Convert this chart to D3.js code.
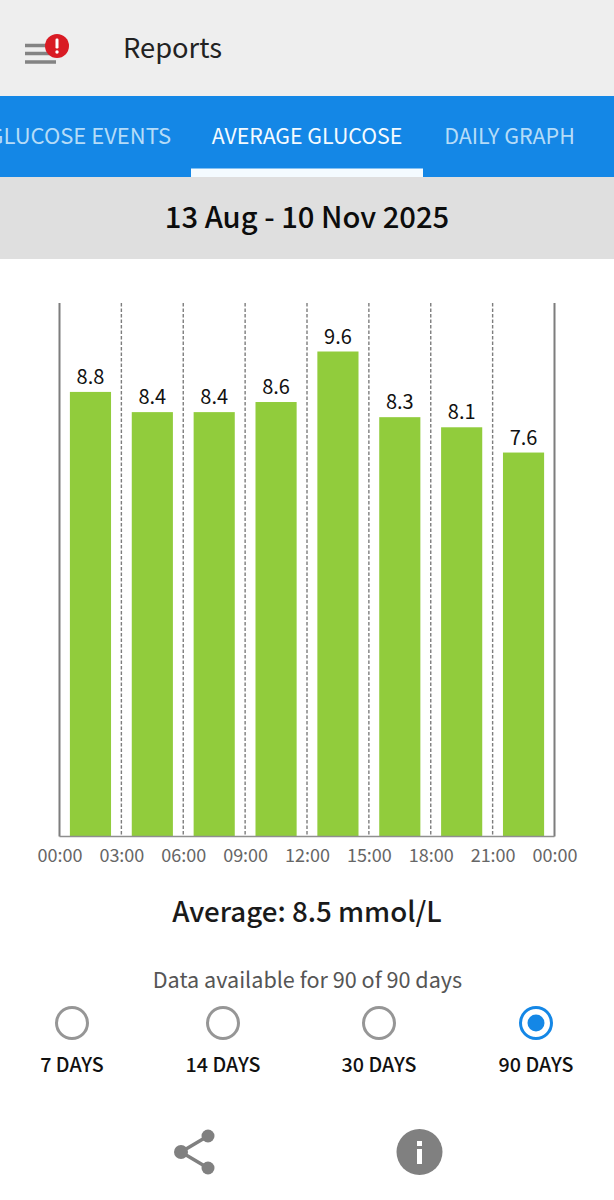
<!DOCTYPE html>
<html>
<head>
<meta charset="UTF-8">
<title>Average Glucose</title>
<script src="https://d3js.org/d3.v7.min.js"></script>
<style>
  html, body { margin: 0; padding: 0; background: #fff; }
  svg { display: block; }
  text { font-family: "Noto Sans CJK JP", "Noto Sans", sans-serif; }
  .axis path, .axis line { display: none; }
</style>
</head>
<body>
<div id="chart"></div>
<script>
// values
var slots = ["00-03", "03-06", "06-09", "09-12", "12-15", "15-18", "18-21", "21-00"];
var glucose = [8.8, 8.4, 8.4, 8.6, 9.6, 8.3, 8.1, 7.6];
var tickLabels = ["00:00", "03:00", "06:00", "09:00", "12:00", "15:00", "18:00", "21:00", "00:00"];
var tickKeys = d3.range(tickLabels.length);
var tabs = ["GLUCOSE EVENTS", "AVERAGE GLUCOSE", "DAILY GRAPH"];
var periods = ["7 DAYS", "14 DAYS", "30 DAYS", "90 DAYS"];
var selectedPeriod = "90 DAYS";

var width = 614, height = 1200;
var plot = { left: 59.5, right: 554.5, top: 303, bottom: 836.5 };

var svg = d3.select("#chart").append("svg")
  .attr("width", width)
  .attr("height", height);

function label(x, y, str, size, weight, fill, anchor) {
  return svg.append("text")
    .attr("x", x).attr("y", y)
    .attr("font-size", size)
    .attr("font-weight", weight)
    .attr("fill", fill)
    .attr("text-anchor", anchor || "middle")
    .text(str);
}

// app bar
svg.append("rect").attr("width", width).attr("height", 96).attr("fill", "#eeeeee");
[45.5, 53.5, 62].forEach(function (y, i) {
  svg.append("rect").attr("x", 25).attr("y", y - 1.75).attr("width", 31).attr("height", 3.5).attr("fill", "#838383");
});
svg.append("circle").attr("cx", 57).attr("cy", 46).attr("r", 12).attr("fill", "#d91b24");
svg.append("rect").attr("x", 55.5).attr("y", 38.5).attr("width", 3).attr("height", 10).attr("rx", 1.2).attr("fill", "#fff");
svg.append("circle").attr("cx", 57).attr("cy", 52).attr("r", 1.7).attr("fill", "#fff");
label(123, 58, "Reports", 27.3, 400, "#222222", "start");

// tab strip
svg.append("rect").attr("y", 96).attr("width", width).attr("height", 81).attr("fill", "#1487e6");
svg.append("rect").attr("x", 191).attr("y", 168.5).attr("width", 232).attr("height", 8.5).attr("fill", "#f4fbff");
label(171, 144, tabs[0], 22, 400, "#b5dcf8", "end");
label(307, 144, tabs[1], 21.3, 400, "#f4fbff");
label(509.5, 144, tabs[2], 21.5, 400, "#b5dcf8");

// date strip
svg.append("rect").attr("y", 177).attr("width", width).attr("height", 82).attr("fill", "#dfdfdf");
label(307, 228, "13 Aug - 10 Nov 2025", 29.2, 500, "#0c0c0c");

// chart
var x = d3.scaleBand()
  .domain(slots)
  .range([plot.left, plot.right])
  .paddingInner(0.335)
  .paddingOuter(0.168);

var xTick = d3.scalePoint()
  .domain(tickKeys)
  .range([plot.left, plot.right]);

var y = d3.scaleLinear()
  .domain([0, 10.56])
  .range([plot.bottom, plot.top]);

// dashed separators, solid at both ends
svg.selectAll(".sep")
  .data(tickKeys)
  .enter()
  .append("line")
  .attr("class", "sep")
  .attr("x1", function (d) { return xTick(d); })
  .attr("x2", function (d) { return xTick(d); })
  .attr("y1", plot.top)
  .attr("y2", plot.bottom)
  .attr("stroke", "#7d7d7d")
  .attr("stroke-width", function (d) { return d === 0 || d === tickKeys.length - 1 ? 2 : 1.4; })
  .attr("stroke-dasharray", function (d) { return d === 0 || d === tickKeys.length - 1 ? null : "3.5,2"; });

svg.selectAll(".bar")
  .data(glucose)
  .enter()
  .append("rect")
  .attr("class", "bar")
  .attr("x", function (d, i) { return x(slots[i]); })
  .attr("y", function (d) { return y(d); })
  .attr("width", x.bandwidth())
  .attr("height", function (d) { return plot.bottom - y(d); })
  .attr("fill", "#91cc3c");

svg.selectAll(".value")
  .data(glucose)
  .enter()
  .append("text")
  .attr("class", "value")
  .attr("x", function (d, i) { return x(slots[i]) + x.bandwidth() / 2; })
  .attr("y", function (d) { return y(d) - 8; })
  .attr("text-anchor", "middle")
  .attr("font-size", 20)
  .attr("fill", "#111111")
  .text(function (d) { return d.toFixed(1); });

svg.append("line")
  .attr("x1", plot.left).attr("x2", plot.right)
  .attr("y1", plot.bottom).attr("y2", plot.bottom)
  .attr("stroke", "#8f8f8f").attr("stroke-width", 1.6);

var xAxis = d3.axisBottom(xTick)
  .tickSize(0)
  .tickPadding(0)
  .tickFormat(function (d) { return tickLabels[d]; });

var axisG = svg.append("g")
  .attr("class", "axis")
  .attr("transform", "translate(0," + (plot.bottom + 13) + ")")
  .call(xAxis);
axisG.selectAll("text")
  .style("font-family", '"Noto Sans CJK JP", sans-serif')
  .attr("font-size", 18)
  .attr("fill", "#666666");
axisG.attr("font-size", null);

label(307, 922, "Average: 8.5 mmol/L", 27.7, 500, "#1a1a1a");
label(307.5, 988, "Data available for 90 of 90 days", 21.6, 400, "#555555");

// period picker
var periodX = d3.scaleOrdinal().domain(periods).range([72, 223, 379, 536]);

periods.forEach(function (p) {
  var on = p === selectedPeriod;
  svg.append("circle")
    .attr("cx", periodX(p)).attr("cy", 1023).attr("r", 15.5)
    .attr("fill", "none")
    .attr("stroke", on ? "#1487e6" : "#969696")
    .attr("stroke-width", 3);
  if (on) {
    svg.append("circle").attr("cx", periodX(p)).attr("cy", 1023).attr("r", 8.5).attr("fill", "#1487e6");
  }
  label(periodX(p), 1072, p, 19.7, 500, "#111111");
});

// share icon
var shareNodes = [[181, 1152], [208, 1136], [208, 1168]];
[[0, 1], [0, 2]].forEach(function (e) {
  svg.append("line")
    .attr("x1", shareNodes[e[0]][0]).attr("y1", shareNodes[e[0]][1])
    .attr("x2", shareNodes[e[1]][0]).attr("y2", shareNodes[e[1]][1])
    .attr("stroke", "#808080").attr("stroke-width", 3.5);
});
shareNodes.forEach(function (n, i) {
  svg.append("circle").attr("cx", n[0]).attr("cy", n[1]).attr("r", i === 0 ? 7 : 6.5).attr("fill", "#808080");
});

// info icon
svg.append("circle").attr("cx", 419.5).attr("cy", 1152).attr("r", 23).attr("fill", "#808080");
svg.append("rect").attr("x", 417).attr("y", 1141).attr("width", 5).attr("height", 5).attr("fill", "#fff");
svg.append("rect").attr("x", 417).attr("y", 1149).attr("width", 5).attr("height", 15).attr("fill", "#fff");
</script>
</body>
</html>
